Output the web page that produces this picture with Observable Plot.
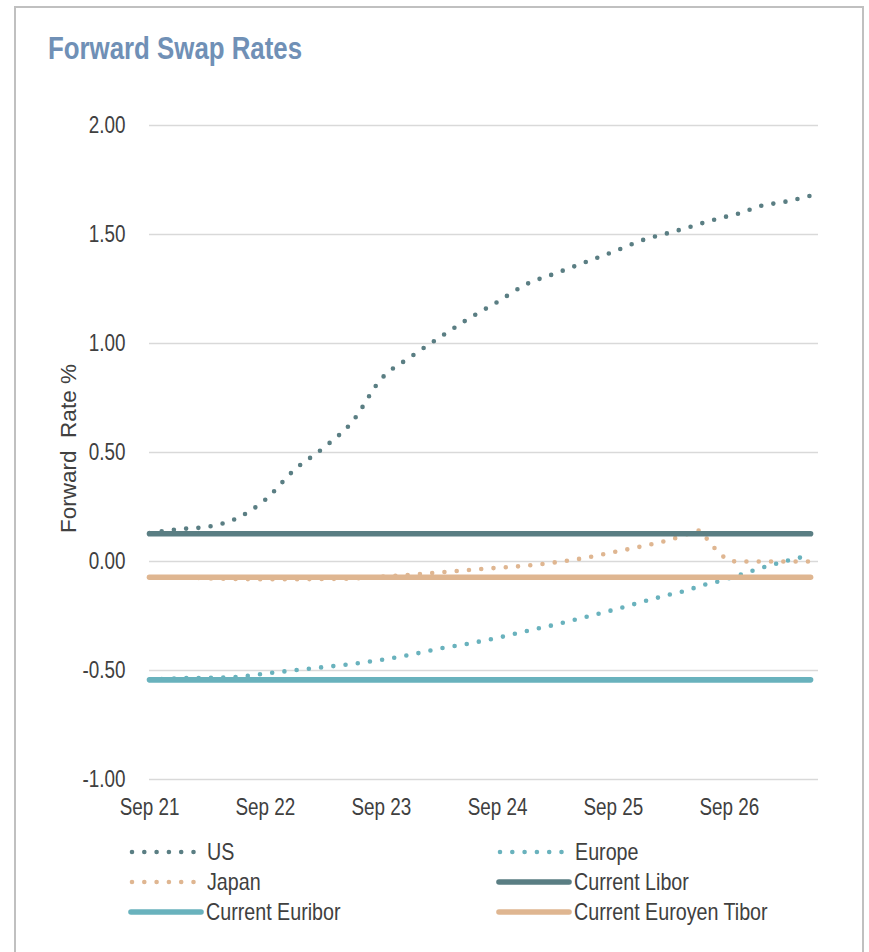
<!DOCTYPE html>
<html>
<head>
<meta charset="utf-8">
<script src="https://cdn.jsdelivr.net/npm/d3@7"></script>
<script src="https://cdn.jsdelivr.net/npm/@observablehq/plot@0.6"></script>
<style>
  html, body { margin: 0; padding: 0; background: #fff; }
  #wrap { position: relative; width: 869px; height: 952px; overflow: hidden; }
  #frame { position: absolute; left: 14px; top: 6px; width: 850px; height: 1000px; border: 2px solid #c0c0c0; box-sizing: border-box; }
  #title { position: absolute; left: 48px; top: 33px; font-family: "Liberation Sans", Arial, sans-serif; font-weight: bold; font-size: 31.5px; line-height: 1; color: #7090b6; white-space: nowrap; transform: scaleX(0.82); transform-origin: 0 50%; }
  #chart { position: absolute; left: 0; top: 0; }
  .lg { position: absolute; height: 30px; display: flex; align-items: center; font-family: "Liberation Sans", Arial, sans-serif; font-size: 24px; line-height: 1; color: #404040; white-space: nowrap; }
  .lg span { display: inline-block; transform: scaleX(0.82); transform-origin: 0 50%; }
</style>
</head>
<body>
<div id="wrap">
  <div id="frame"></div>
  <div id="title">Forward Swap Rates</div>
  <div id="chart"></div>
  <div id="legend"></div>
</div>
<script>
// ---- data ----
const dates = ["2021-09-01","2021-12-01","2022-03-01","2022-06-01","2022-09-01","2022-12-01","2023-03-01","2023-06-01","2023-09-01","2023-12-01","2024-03-01","2024-06-01","2024-09-01","2024-12-01","2025-03-01","2025-06-01","2025-09-01","2025-12-01","2026-03-01","2026-05-01","2026-06-01","2026-07-01","2026-08-01","2026-09-01","2026-10-01","2026-12-01","2027-03-01","2027-05-15"];
const usRates = [0.130,0.148,0.159,0.197,0.284,0.420,0.519,0.640,0.838,0.937,1.026,1.113,1.191,1.272,1.321,1.371,1.421,1.474,1.510,1.535,1.549,1.563,1.573,1.586,1.596,1.628,1.652,1.678];
const europeRates = [-0.543,-0.536,-0.534,-0.530,-0.514,-0.499,-0.485,-0.470,-0.451,-0.428,-0.400,-0.377,-0.350,-0.319,-0.290,-0.256,-0.222,-0.185,-0.150,-0.128,-0.111,-0.101,-0.090,-0.076,-0.063,-0.034,0.003,0.029];
const japanRates = [-0.072,-0.073,-0.077,-0.080,-0.081,-0.081,-0.080,-0.078,-0.070,-0.061,-0.050,-0.039,-0.029,-0.019,-0.004,0.016,0.043,0.070,0.101,0.130,0.143,0.085,0.041,0.003,0.000,0.000,0.000,0.000];
const currentLibor = 0.127;
const currentEuribor = -0.543;
const currentTibor = -0.072;
const yTicks = [-1, -0.5, 0, 0.5, 1, 1.5, 2];
const xTickDates = ["2021-09-01","2022-09-01","2023-09-01","2024-09-01","2025-09-01","2026-09-01"];
const xTickLabels = ["Sep 21","Sep 22","Sep 23","Sep 24","Sep 25","Sep 26"];
const seriesNames = ["US","Europe","Japan","Current Libor","Current Euribor","Current Euroyen Tibor"];
const yLabel = "Forward\u00a0\u00a0Rate %";
const colors = {us: "#5a7e83", europe: "#69b2bd", japan: "#dfb691"};

// ---- build tables ----
const parse = d3.utcParse("%Y-%m-%d");
const toRows = (vals) => dates.map((d, i) => ({date: parse(d), value: vals[i]}));
const flatRows = (v) => [{date: parse(dates[0]), value: v}, {date: parse(dates[dates.length - 1]), value: v}];
const xTicks = xTickDates.map(parse);
const labelFor = new Map(xTickDates.map((d, i) => [+parse(d), xTickLabels[i]]));

const dotted = {strokeWidth: 4.6, strokeDasharray: "0 12.3", strokeLinecap: "round", curve: "monotone-x"};
const solid = {strokeWidth: 5.6, strokeLinecap: "round"};

const chart = Plot.plot({
  width: 869,
  height: 830,
  marginLeft: 149,
  marginRight: 51,
  marginTop: 125,
  marginBottom: 51,
  style: {fontFamily: '"Liberation Sans", Arial, sans-serif', fontSize: "23px", color: "#404040", background: "transparent"},
  x: {type: "utc", domain: [parse("2021-09-01"), parse("2027-06-09")]},
  y: {domain: [-1, 2]},
  marks: [
    Plot.ruleY(yTicks, {stroke: "#d9d9d9", strokeWidth: 1.6}),
    Plot.axisY({ticks: yTicks, tickSize: 0, tickPadding: 24, tickFormat: d => d.toFixed(2), label: null}),
    Plot.axisX({ticks: xTicks, tickSize: 0, tickPadding: 19, tickFormat: d => labelFor.get(+d), label: null}),
    Plot.text([yLabel], {frameAnchor: "left", textAnchor: "middle", dx: -81, dy: -4, rotate: -90, fontFamily: '"Liberation Sans", Arial, sans-serif', fontSize: 22.5, fill: "#404040"}),
    Plot.line(toRows(usRates), {x: "date", y: "value", stroke: colors.us, ...dotted}),
    Plot.line(toRows(europeRates), {x: "date", y: "value", stroke: colors.europe, ...dotted}),
    Plot.line(toRows(japanRates), {x: "date", y: "value", stroke: colors.japan, ...dotted}),
    Plot.line(flatRows(currentLibor), {x: "date", y: "value", stroke: colors.us, ...solid}),
    Plot.line(flatRows(currentEuribor), {x: "date", y: "value", stroke: colors.europe, ...solid}),
    Plot.line(flatRows(currentTibor), {x: "date", y: "value", stroke: colors.japan, ...solid})
  ]
});

// narrow the horizontal texts (the reference uses a condensed face)
const K = 0.82;
for (const t of chart.querySelectorAll("text")) {
  if (t.textContent === yLabel) continue;
  const tr = t.getAttribute("transform") || "";
  t.setAttribute("transform", `${tr} scale(${K},1)`.trim());
}
document.getElementById("chart").appendChild(chart);

// ---- legend ----
const legendItems = [
  {name: seriesNames[0], color: colors.us, dotted: true, x: 129, y: 852},
  {name: seriesNames[1], color: colors.europe, dotted: true, x: 497, y: 852},
  {name: seriesNames[2], color: colors.japan, dotted: true, x: 129, y: 882},
  {name: seriesNames[3], color: colors.us, dotted: false, x: 496, y: 882},
  {name: seriesNames[4], color: colors.europe, dotted: false, x: 128, y: 912},
  {name: seriesNames[5], color: colors.japan, dotted: false, x: 496, y: 912}
];
const legend = document.getElementById("legend");
for (const it of legendItems) {
  const div = document.createElement("div");
  div.className = "lg";
  div.style.left = it.x + "px";
  div.style.top = (it.y - 15) + "px";
  const w = 78;
  const sw = it.dotted
    ? `<line x1="3" x2="68" y1="5" y2="5" stroke="${it.color}" stroke-width="4.6" stroke-dasharray="0 12.3" stroke-linecap="round"/>`
    : `<line x1="3" x2="73" y1="5" y2="5" stroke="${it.color}" stroke-width="5.6" stroke-linecap="round"/>`;
  div.innerHTML = `<svg width="${w}" height="10">${sw}</svg><span>${it.name}</span>`;
  legend.appendChild(div);
}
</script>
</body>
</html>
